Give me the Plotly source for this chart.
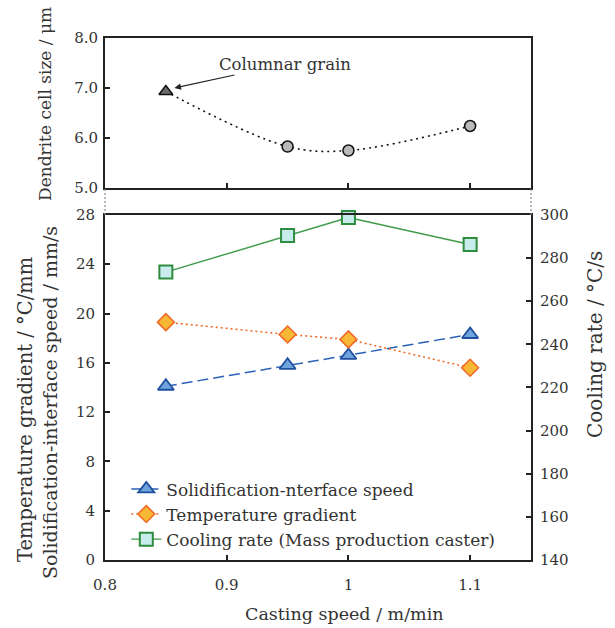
import plotly.graph_objects as go

# ---- data ----
casting_speed = [0.85, 0.95, 1.0, 1.1]
dendrite_size = [6.93, 5.83, 5.75, 6.24]
interface_speed = [14.1, 15.8, 16.6, 18.3]
temp_gradient = [19.3, 18.3, 17.9, 15.6]
cooling_rate = [273.5, 290.5, 298.8, 286.3]

x_ticks = [0.8, 0.9, 1.0, 1.1]
x_ticktext = ["0.8", "0.9", "1", "1.1"]
top_ticks = [5, 6, 7, 8]
top_ticktext = ["5.0", "6.0", "7.0", "8.0"]
left_ticks = [0, 4, 8, 12, 16, 20, 24, 28]
right_ticks = [140, 160, 180, 200, 220, 240, 260, 280, 300]

FONT = "DejaVu Serif"
TXT = "#333333"

fig = go.Figure()

# top panel: dendrite cell size
fig.add_trace(go.Scatter(
    x=casting_speed, y=dendrite_size, xaxis="x", yaxis="y",
    mode="lines", line=dict(color="#111111", width=1.6, dash="2px,4px", shape="spline"),
    showlegend=False, hoverinfo="skip"))
fig.add_trace(go.Scatter(
    x=casting_speed[:1], y=dendrite_size[:1], xaxis="x", yaxis="y",
    mode="markers", marker=dict(symbol="triangle-up", size=12, color="#6b6b6b",
                                line=dict(color="#111111", width=1.5)),
    showlegend=False, cliponaxis=False))
fig.add_trace(go.Scatter(
    x=casting_speed[1:], y=dendrite_size[1:], xaxis="x", yaxis="y",
    mode="markers", marker=dict(symbol="circle", size=11, color="#b9b9b9",
                                line=dict(color="#111111", width=1.5)),
    showlegend=False, cliponaxis=False))

# bottom panel
fig.add_trace(go.Scatter(
    x=casting_speed, y=interface_speed, xaxis="x2", yaxis="y2",
    name="Solidification-nterface speed", mode="lines+markers",
    line=dict(color="#2a62b8", width=1.5, dash="11px,5px"),
    marker=dict(symbol="triangle-up", size=14, color="#6fa3dc",
                line=dict(color="#1f4f9e", width=1.8)),
    cliponaxis=False))
fig.add_trace(go.Scatter(
    x=casting_speed, y=temp_gradient, xaxis="x2", yaxis="y2",
    name="Temperature gradient", mode="lines+markers",
    line=dict(color="#f06a28", width=1.6, dash="2px,3px"),
    marker=dict(symbol="diamond", size=13, color="#f8b735",
                line=dict(color="#f06a28", width=1.6)),
    cliponaxis=False))
fig.add_trace(go.Scatter(
    x=casting_speed, y=cooling_rate, xaxis="x2", yaxis="y3",
    name="Cooling rate (Mass production caster)", mode="lines+markers",
    line=dict(color="#3c9a4a", width=1.4),
    marker=dict(symbol="square", size=13, color="#c8ecec",
                line=dict(color="#2e8c3e", width=2)),
    cliponaxis=False))

TOP_LO = 0.7126
BOT_HI = 0.661

def ax(**kw):
    d = dict(showline=True, linecolor="#222222", linewidth=2, ticks="inside",
             ticklen=5, tickwidth=2, tickcolor="#222222", showgrid=False,
             zeroline=False, tickfont=dict(family=FONT, size=15, color=TXT))
    d.update(kw)
    return d

fig.update_layout(
    width=615, height=628,
    margin=dict(l=105, r=84, t=38, b=68),
    paper_bgcolor="white", plot_bgcolor="white",
    font=dict(family=FONT, size=16, color=TXT),
    xaxis=ax(domain=[0, 1], anchor="y", range=[0.8, 1.15], tickvals=x_ticks[1:],
             showticklabels=False, mirror=True),
    yaxis=ax(domain=[TOP_LO, 1], anchor="x", range=[5, 8], tickvals=top_ticks,
             ticktext=top_ticktext, mirror=True, ticklabelstandoff=2),
    xaxis2=ax(domain=[0, 1], anchor="y2", range=[0.8, 1.15], tickvals=x_ticks,
              ticktext=x_ticktext, mirror=True, ticklabelstandoff=10),
    yaxis2=ax(domain=[0, BOT_HI], anchor="x2", range=[0, 28], tickvals=left_ticks,
              ticklabelstandoff=5),
    yaxis3=ax(anchor="x2", overlaying="y2", side="right", range=[140, 300],
              tickvals=right_ticks, ticklabelstandoff=4),
    legend=dict(x=0.05, y=0.005, xanchor="left", yanchor="bottom",
                bgcolor="rgba(0,0,0,0)", font=dict(family=FONT, size=17, color=TXT),
                tracegroupgap=0, itemwidth=30),
    showlegend=True,
)

# dotted connectors between panels
for xp in (0, 1):
    fig.add_shape(type="line", xref="paper", yref="paper", x0=xp, x1=xp,
                  y0=BOT_HI, y1=TOP_LO, line=dict(color="#888888", width=1.2, dash="2px,2px"))

# annotations: arrow + titles
fig.add_annotation(x=0.857, y=7.0, xref="x", yref="y", ax=0.948, ay=7.48,
                   axref="x", ayref="y", text="Columnar grain", showarrow=True,
                   arrowhead=2, arrowsize=1.2, arrowwidth=1.1, arrowcolor="#222222",
                   font=dict(family=FONT, size=16.5, color=TXT))

def title(text, px, py, size, angle=0):
    fig.add_annotation(xref="paper", yref="paper", x=(px - 105) / 426, y=(560 - py) / 522,
                       xanchor="center", yanchor="middle", text=text, showarrow=False,
                       textangle=angle, font=dict(family=FONT, size=size, color=TXT))

title("Casting speed / m/min", 344, 614, 17.5)
title("Dendrite cell size / μm", 45, 104, 17, -90)
title("Temperature gradient / °C/mm", 25, 410, 19.5, -90)
title("Solidification-interface speed / mm/s", 50, 403, 19, -90)
title("Cooling rate / °C/s", 595, 345, 20, -90)

fig.write_html("out.html", config={"displayModeBar": False},
               post_script="document.body.style.margin='0';")
